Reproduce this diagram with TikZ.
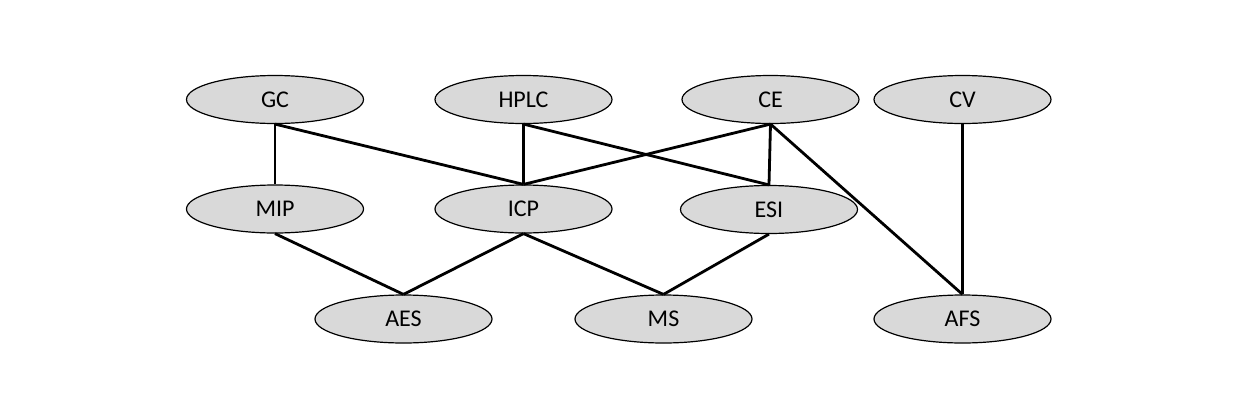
\documentclass[tikz,border=0pt]{standalone}
\usepackage{fontspec}
\setmainfont{Carlito}
\usetikzlibrary{shapes.geometric}
\definecolor{nodefill}{HTML}{D9D9D9}
\tikzset{
  tech/.style={ellipse, draw=black, line width=0.9pt, fill=nodefill,
    minimum width=132.75pt, minimum height=36pt, inner sep=0pt,
    font=\fontsize{18}{21}\selectfont},
  link/.style={draw=black, line width=2.1pt}
}
\begin{document}
\begin{tikzpicture}[x=0.75pt,y=-0.75pt]
\useasboundingbox[fill=white] (0,0) rectangle (1239,404);
\node[tech] (GC)   at (275,99.5) {GC};
\node[tech] (HPLC) at (523.5,99.5) {HPLC};
\node[tech] (CE)   at (770.5,99.5) {CE};
\node[tech] (CV)   at (962.5,99.5) {CV};
\node[tech] (MIP)  at (275,209) {MIP};
\node[tech] (ICP)  at (523.5,209) {ICP};
\node[tech] (ESI)  at (769,209.5) {ESI};
\node[tech] (AES)  at (403.5,319) {AES};
\node[tech] (MS)   at (663.5,319) {MS};
\node[tech] (AFS)  at (962.5,319) {AFS};
\draw[link] (GC.south) -- (MIP.north);
\draw[link] (GC.south) -- (ICP.north);
\draw[link] (HPLC.south) -- (ICP.north);
\draw[link] (HPLC.south) -- (ESI.north);
\draw[link] (CE.south) -- (ICP.north);
\draw[link] (CE.south) -- (ESI.north);
\draw[link] (CE.south) -- (AFS.north);
\draw[link] (CV.south) -- (AFS.north);
\draw[link] (MIP.south) -- (AES.north);
\draw[link] (ICP.south) -- (AES.north);
\draw[link] (ICP.south) -- (MS.north);
\draw[link] (ESI.south) -- (MS.north);
\end{tikzpicture}
\end{document}
